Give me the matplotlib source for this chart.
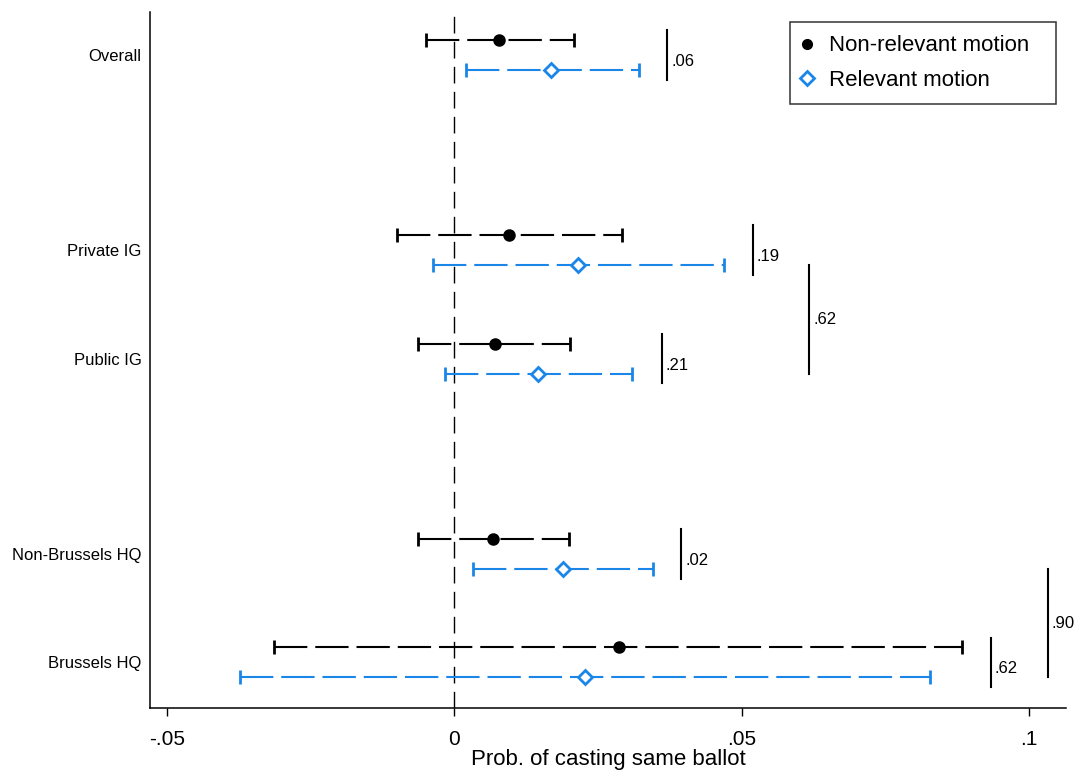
import matplotlib
matplotlib.use("Agg")
from matplotlib import pyplot as plt
from matplotlib.lines import Line2D
import numpy as np

# groups (top to bottom) and their vertical positions
groups = ["Overall", "Private IG", "Public IG", "Non-Brussels HQ", "Brussels HQ"]
group_pos = [0.0, 1.8, 2.8, 4.6, 5.6]

# Non-relevant motion: point estimate and 95% CI
nonrel_est = [0.0078, 0.0096, 0.0070, 0.0068, 0.0286]
nonrel_lo = [-0.0049, -0.0099, -0.0063, -0.0063, -0.0314]
nonrel_hi = [0.0209, 0.0291, 0.0202, 0.0199, 0.0883]

# Relevant motion: point estimate and 95% CI
rel_est = [0.0169, 0.0216, 0.0146, 0.0190, 0.0228]
rel_lo = [0.0021, -0.0037, -0.0016, 0.0033, -0.0373]
rel_hi = [0.0322, 0.0469, 0.0310, 0.0345, 0.0828]

# p-values of differences within a group
within_x = [0.0371, 0.0519, 0.0361, 0.0395, 0.0934]
within_p = [".06", ".19", ".21", ".02", ".62"]
# p-values between groups: (x, group a, group b, label)
between = [
    (0.0618, 1, 2, ".62"),
    (0.1033, 3, 4, ".90"),
]

BLUE = "#1a86e8"
off = 0.138

plt.rcParams.update({
    "font.family": ["Liberation Sans", "DejaVu Sans"],
    "font.size": 12,
})

fig = plt.figure(figsize=(10.81, 7.72), dpi=100)
ax = fig.add_axes([150 / 1081, 1 - 708 / 772, 916 / 1081, 696 / 772])

pos = np.array(group_pos)

ax.axvline(0, color="black", lw=1.0, dashes=(12, 6), zorder=1)

for est, lo, hi, y, color, marker, mfc in [
    (nonrel_est, nonrel_lo, nonrel_hi, pos - off, "black", "o", "black"),
    (rel_est, rel_lo, rel_hi, pos + off, BLUE, "D", "white"),
]:
    est = np.array(est)
    xerr = [est - np.array(lo), np.array(hi) - est]
    line, caps, bars = ax.errorbar(est, y, xerr=xerr, fmt=marker, color=color,
                                   mfc=mfc, mec=color, ms=7, mew=2,
                                   ecolor=color, elinewidth=1.5,
                                   capsize=5, capthick=1.6, zorder=3)
    bars[0].set_linestyle((0, (16, 3.8)))

# within-group brackets
for i, (x, p) in enumerate(zip(within_x, within_p)):
    ax.plot([x, x], [pos[i] - off - 0.09, pos[i] + off + 0.09], color="black", lw=1.5)
    ax.text(x + 0.0007, pos[i] + 0.06, p, fontsize=12, va="center", ha="left")

# between-group brackets
for x, a, b, p in between:
    ax.plot([x, x], [pos[a] + off, pos[b] + off], color="black", lw=1.5)
    ax.text(x + 0.0007, (pos[a] + pos[b]) / 2 + off, p, fontsize=12,
            va="center", ha="left")

ax.set_xlim(-0.05296, 0.10646)
ax.set_ylim(6.02, -0.396)
ax.set_xticks([-0.05, 0, 0.05, 0.1])
ax.set_xticklabels(["-.05", "0", ".05", ".1"], fontsize=15)
ax.set_yticks(pos)
ax.set_yticklabels(groups, fontsize=12)
ax.tick_params(axis="y", length=0, pad=6)
ax.tick_params(axis="x", length=6, width=1.0, pad=10)
ax.set_xlabel("Prob. of casting same ballot", fontsize=16, labelpad=0)

for s in ["top", "right"]:
    ax.spines[s].set_visible(False)
for s in ["left", "bottom"]:
    ax.spines[s].set_linewidth(1.1)

handles = [
    Line2D([], [], ls="none", marker="o", color="black", ms=7, label="Non-relevant motion"),
    Line2D([], [], ls="none", marker="D", color=BLUE, mfc="white", mew=2, ms=7,
           label="Relevant motion"),
]
leg = ax.legend(handles=handles, loc="upper right", fontsize=16, frameon=True,
                fancybox=False, edgecolor="black", mode="expand",
                bbox_to_anchor=(0.6987, 0.0, 0.2904, 0.9856), borderaxespad=0,
                handlelength=0.3, handletextpad=0.85, borderpad=0.6,
                labelspacing=0.62)
leg.get_frame().set_linewidth(1.1)

fig.savefig("out.png", dpi=100)
